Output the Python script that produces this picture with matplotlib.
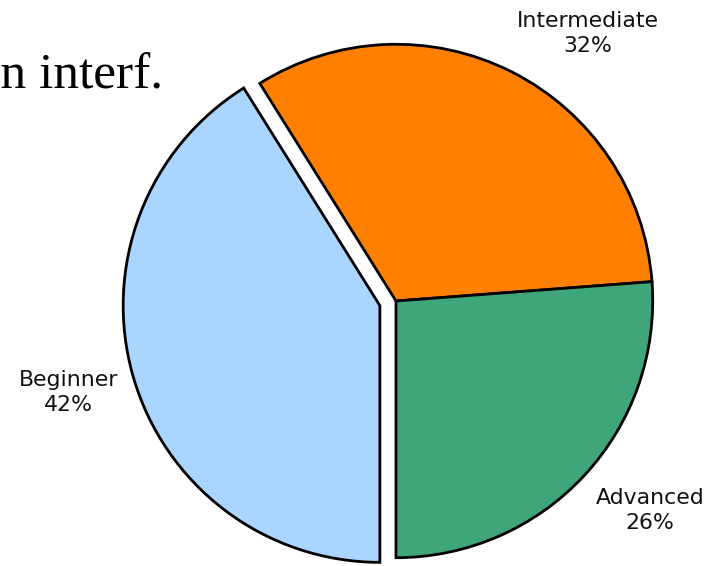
import matplotlib
matplotlib.use("Agg")
import matplotlib.pyplot as plt

categories = ["Beginner", "Intermediate", "Advanced"]
values = [41.1, 32.7, 26.2]
# percentages as printed on the chart
pct_labels = ["42%", "32%", "26%"]
colors = ["#A9D5FF", "#FF7F00", "#3EA67A"]
explode = [0.065, 0, 0]
title_text = "Distribution of skill levels in interf."

fig = plt.figure(figsize=(7.15, 5.66), dpi=100)
ax = fig.add_axes([0, 0, 1, 1])

wedges, _ = ax.pie(values, colors=colors, explode=explode, startangle=-90,
                   counterclock=False, radius=0.995,
                   wedgeprops=dict(edgecolor="black", linewidth=2.0, joinstyle="miter"))
ax.set_xlim(-396 / 258, (715 - 396) / 258)
ax.set_ylim(-(566 - 301) / 258, 301 / 258)
ax.set_aspect("auto")
ax.axis("off")

label_pos = [(-1.27, -0.355), (0.742, 1.037), (0.984, -0.812)]
for cat, pct, (x, y) in zip(categories, pct_labels, label_pos):
    ax.text(x, y, f"{cat}\n{pct}", ha="center", va="center", multialignment="center",
            fontsize=15.8, family="DejaVu Sans", color="#111111", linespacing=1.35)

ax.text(-0.903, 0.826, title_text, ha="right", va="baseline",
        fontsize=37, family="Liberation Serif", color="black")

fig.savefig("out.png", dpi=100)
